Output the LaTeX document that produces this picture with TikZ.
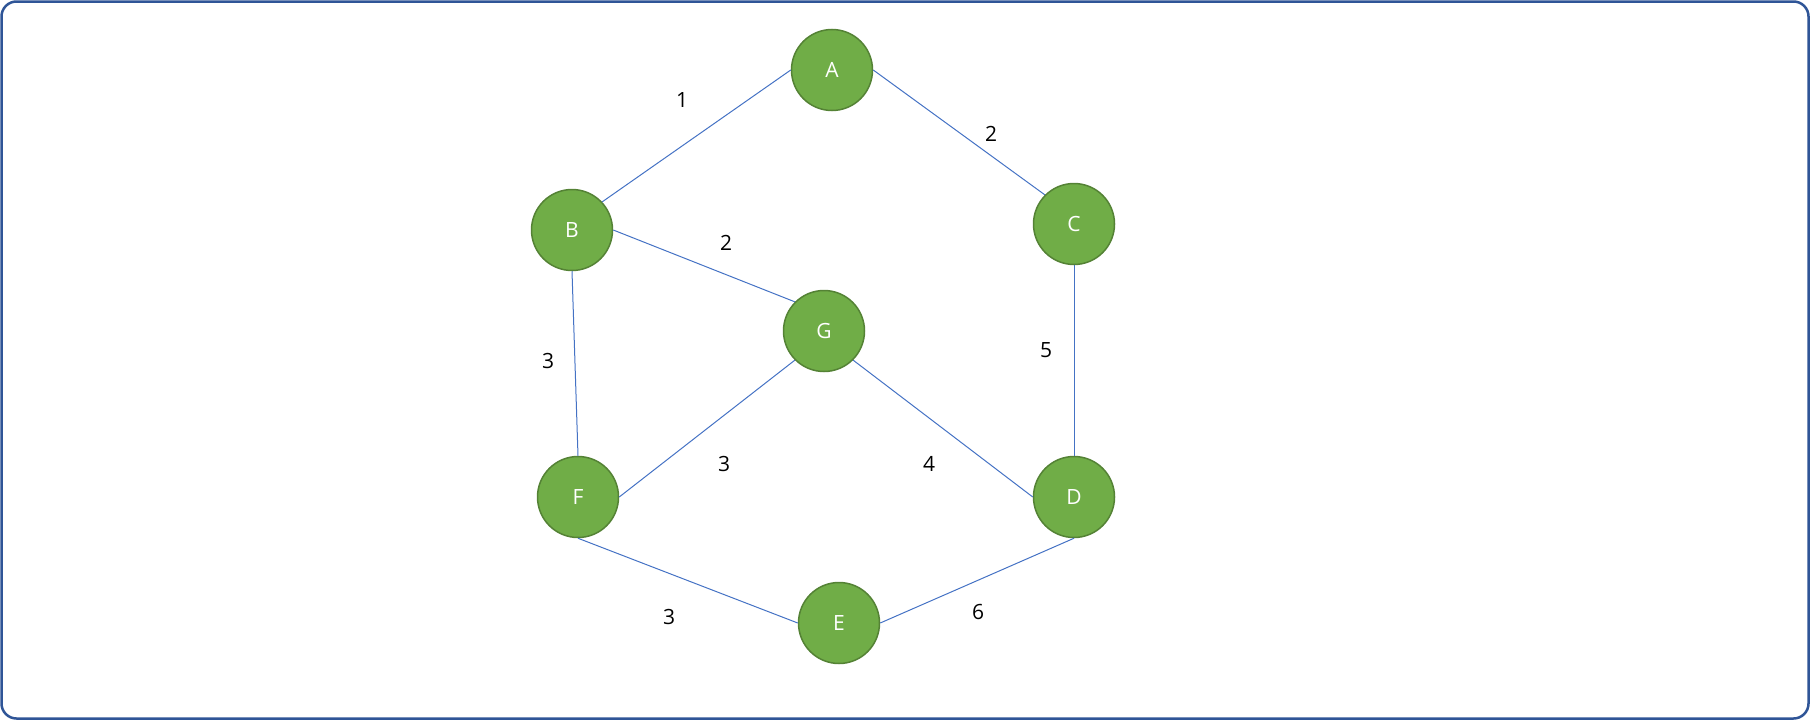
\documentclass[tikz,border=0pt]{standalone}
\usepackage{fontspec}
\setmainfont{Open Sans}
\usetikzlibrary{positioning}
\definecolor{NodeFill}{HTML}{70AD47}
\definecolor{NodeLine}{HTML}{548235}
\definecolor{EdgeBlue}{HTML}{4472C4}
\definecolor{Frame}{HTML}{2F5597}
\tikzset{
  vertex/.style={circle, draw=NodeLine, fill=NodeFill, line width=1.5pt, minimum size=81pt, inner sep=0pt, text=white, font=\fontsize{21}{25}\selectfont},
  edge/.style={draw=EdgeBlue, line width=1pt},
  weight/.style={font=\fontsize{21}{25}\selectfont, text=black}
}
\begin{document}
\begin{tikzpicture}[x=1pt, y=-1pt]
  \draw[Frame, line width=2.5pt, rounded corners=15pt] (1.5,1.5) rectangle (1808.5,718.5);
  \useasboundingbox (0,0) rectangle (1810,720);
  \node[vertex] (A) at (832,70) {A};
  \node[vertex] (B) at (572,230) {B};
  \node[vertex] (C) at (1074,224) {C};
  \node[vertex] (G) at (824,331) {G};
  \node[vertex] (F) at (578,497) {F};
  \node[vertex] (D) at (1074,497) {D};
  \node[vertex] (E) at (839,623) {E};
  \draw[edge] (A.west) -- (B.43);
  \draw[edge] (A.east) -- (C.135);
  \draw[edge] (B.east) -- (G.135);
  \draw[edge] (B.south) -- (F.north);
  \draw[edge] (G.225) -- (F.east);
  \draw[edge] (G.315) -- (D.west);
  \draw[edge] (C.south) -- (D.north);
  \draw[edge] (F.south) -- (E.west);
  \draw[edge] (E.east) -- (D.south);
  \node[weight] (wAB) at (682,100) {1};
  \node[weight] (wAC) at (991,134) {2};
  \node[weight] (wBG) at (726,243) {2};
  \node[weight] (wBF) at (548,361) {3};
  \node[weight] (wCD) at (1046,350) {5};
  \node[weight] (wGF) at (724,464) {3};
  \node[weight] (wGD) at (929,464) {4};
  \node[weight] (wFE) at (669,617) {3};
  \node[weight] (wED) at (978,612) {6};
\end{tikzpicture}
\end{document}
